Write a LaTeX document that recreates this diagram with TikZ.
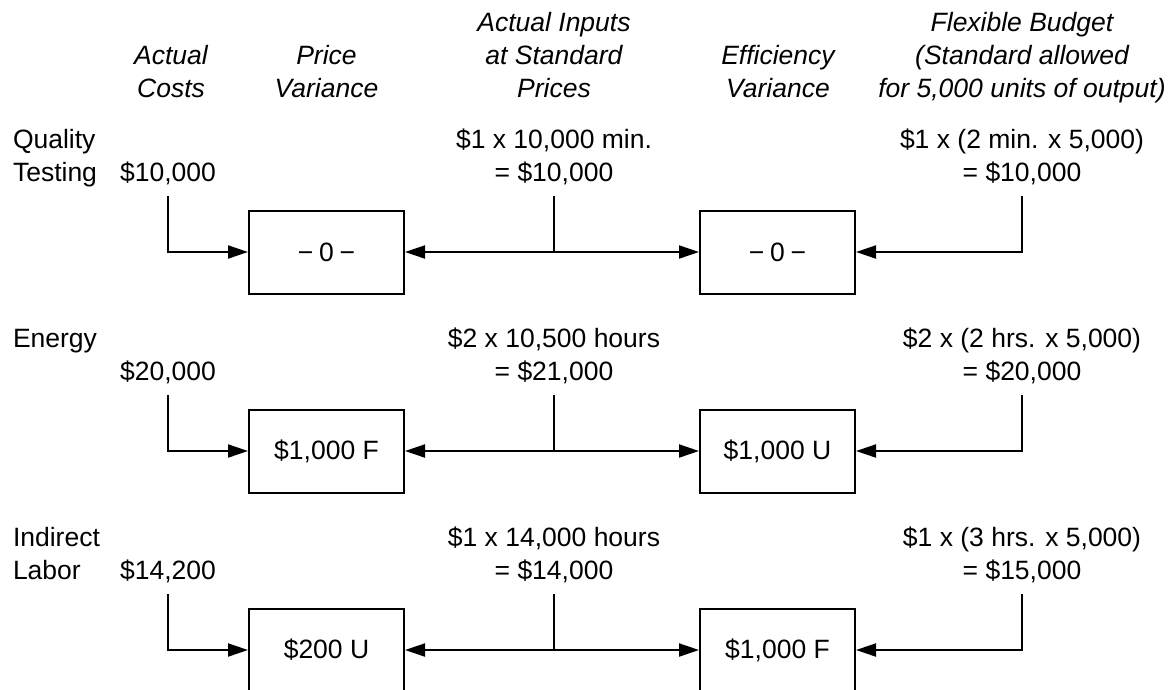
\documentclass[tikz,border=0pt]{standalone}
\usepackage{fontspec}
\setmainfont{Liberation Sans}
\usetikzlibrary{arrows.meta, positioning}

\begin{document}
\begin{tikzpicture}[x=1pt, y=-1pt, line width=2pt,
    every node/.style={font=\fontsize{26.5}{33}\selectfont, inner sep=0pt},
    hdr/.style={align=center, anchor=base, font=\fontsize{26.5}{33}\selectfont\itshape},
    val/.style={align=center, anchor=base},
    lbl/.style={align=left, anchor=base west},
    varbox/.style={draw, rectangle, minimum width=155pt, minimum height=83pt},
    >={Triangle[length=20pt, width=13pt]}]
    \useasboundingbox (0,0) rectangle (1169,689);
    \clip (0,0) rectangle (1169,689);

    % Column headings (base = last line)
    \node[hdr] (hAct) at (171,97) {Actual\\Costs};
    \node[hdr] (hPV) at (326.5,97) {Price\\Variance};
    \node[hdr] (hStd) at (554,97) {Actual Inputs\\at Standard\\Prices};
    \node[hdr] (hEV) at (778,97) {Efficiency\\Variance};
    \node[hdr] (hFlex) at (1022,97) {Flexible Budget\\(Standard allowed\\for 5,000 units of output)};

    % Row 1: Quality Testing
    \node[lbl] (qtLbl) at (12,181) {Quality\\Testing};
    \node[val] (qtAct) at (168,181) {\$10,000};
    \node[val] (qtStd) at (554,181) {\$1 x 10,000 min.\\= \$10,000};
    \node[val] (qtFlex) at (1022,181) {\$1 x (2 min. x 5,000)\\= \$10,000};
    \node[varbox] (qtPV) at (326.5,252) {−\hspace{0.22em}0\hspace{0.22em}−};
    \node[varbox] (qtEV) at (777.5,252) {−\hspace{0.22em}0\hspace{0.22em}−};

    \draw[->] ([yshift=-15pt]qtAct.base) |- (qtPV);
    \draw[<->] (qtPV) -- (qtEV);
    \draw ([yshift=-15pt]qtStd.base) -- (qtStd.base |- qtPV.east);
    \draw[->] ([yshift=-15pt]qtFlex.base) |- (qtEV);

    % Row 2: Energy
    \node[lbl] (enLbl) at (12,347) {Energy};
    \node[val] (enAct) at (168,380) {\$20,000};
    \node[val] (enStd) at (554,380) {\$2 x 10,500 hours\\= \$21,000};
    \node[val] (enFlex) at (1022,380) {\$2 x (2 hrs. x 5,000)\\= \$20,000};
    \node[varbox] (enPV) at (326.5,451) {\$1,000 F};
    \node[varbox] (enEV) at (777.5,451) {\$1,000 U};

    \draw[->] ([yshift=-15pt]enAct.base) |- (enPV);
    \draw[<->] (enPV) -- (enEV);
    \draw ([yshift=-15pt]enStd.base) -- (enStd.base |- enPV.east);
    \draw[->] ([yshift=-15pt]enFlex.base) |- (enEV);

    % Row 3: Indirect Labor
    \node[lbl] (ilLbl) at (12,579) {Indirect\\Labor};
    \node[val] (ilAct) at (168,579) {\$14,200};
    \node[val] (ilStd) at (554,579) {\$1 x 14,000 hours\\= \$14,000};
    \node[val] (ilFlex) at (1022,579) {\$1 x (3 hrs. x 5,000)\\= \$15,000};
    \node[varbox] (ilPV) at (326.5,650) {\$200 U};
    \node[varbox] (ilEV) at (777.5,650) {\$1,000 F};

    \draw[->] ([yshift=-15pt]ilAct.base) |- (ilPV);
    \draw[<->] (ilPV) -- (ilEV);
    \draw ([yshift=-15pt]ilStd.base) -- (ilStd.base |- ilPV.east);
    \draw[->] ([yshift=-15pt]ilFlex.base) |- (ilEV);
\end{tikzpicture}
\end{document}
